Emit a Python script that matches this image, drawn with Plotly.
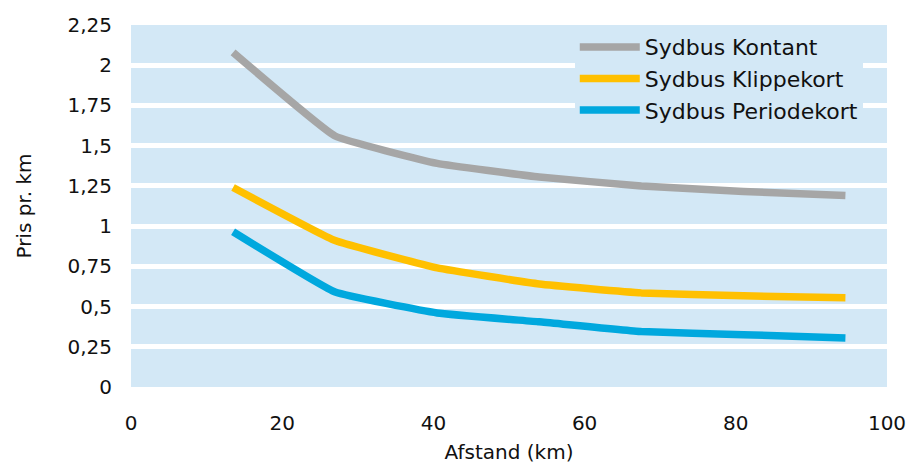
import plotly.graph_objects as go

afstand = [13.5, 27, 40.5, 54, 67.5, 81, 94.5]
kontant = [2.08, 1.56, 1.39, 1.305, 1.25, 1.215, 1.19]
klippekort = [1.24, 0.91, 0.74, 0.64, 0.585, 0.567, 0.555]
periodekort = [0.965, 0.59, 0.46, 0.405, 0.345, 0.325, 0.305]

series = [
    ("Sydbus Kontant", kontant, "#A6A6A6"),
    ("Sydbus Klippekort", klippekort, "#FFC000"),
    ("Sydbus Periodekort", periodekort, "#00A8DE"),
]

ytick_vals = [0, 0.25, 0.5, 0.75, 1, 1.25, 1.5, 1.75, 2, 2.25]
ytick_text = ["0", "0,25", "0,5", "0,75", "1", "1,25", "1,5", "1,75", "2", "2,25"]
xtick_vals = [0, 20, 40, 60, 80, 100]

fig = go.Figure()
for name, vals, color in series:
    fig.add_trace(go.Scatter(
        x=afstand, y=vals, name=name, mode="lines",
        line=dict(color=color, width=7.5, shape="spline", smoothing=0.3),
    ))

bg = "#D3E8F6"
fig.update_layout(
    width=912, height=465,
    margin=dict(l=131, r=25, t=25, b=78, autoexpand=False),
    paper_bgcolor="white",
    plot_bgcolor=bg,
    font=dict(family="DejaVu Sans", size=20, color="#111111"),
    legend=dict(
        x=0.587, y=0.997, xanchor="left", yanchor="top",
        bgcolor=bg, font=dict(size=22),
        tracegroupgap=0, itemwidth=60,
    ),
    xaxis=dict(
        range=[0, 100], tickvals=xtick_vals, showgrid=False, zeroline=False,
        showline=False, ticks="", ticklen=0, ticklabelstandoff=22,
        automargin=False,
        title=dict(text="Afstand (km)", standoff=10, font=dict(size=20)),
    ),
    yaxis=dict(
        range=[0, 2.25], tickvals=ytick_vals, ticktext=ytick_text,
        showgrid=True, gridcolor="white", gridwidth=5, zeroline=False,
        showline=False, ticks="", ticklen=0, ticklabelstandoff=18,
        automargin=False,
        title=dict(text="Pris pr. km", standoff=30, font=dict(size=20)),
    ),
)

fig.write_html("out.html")
